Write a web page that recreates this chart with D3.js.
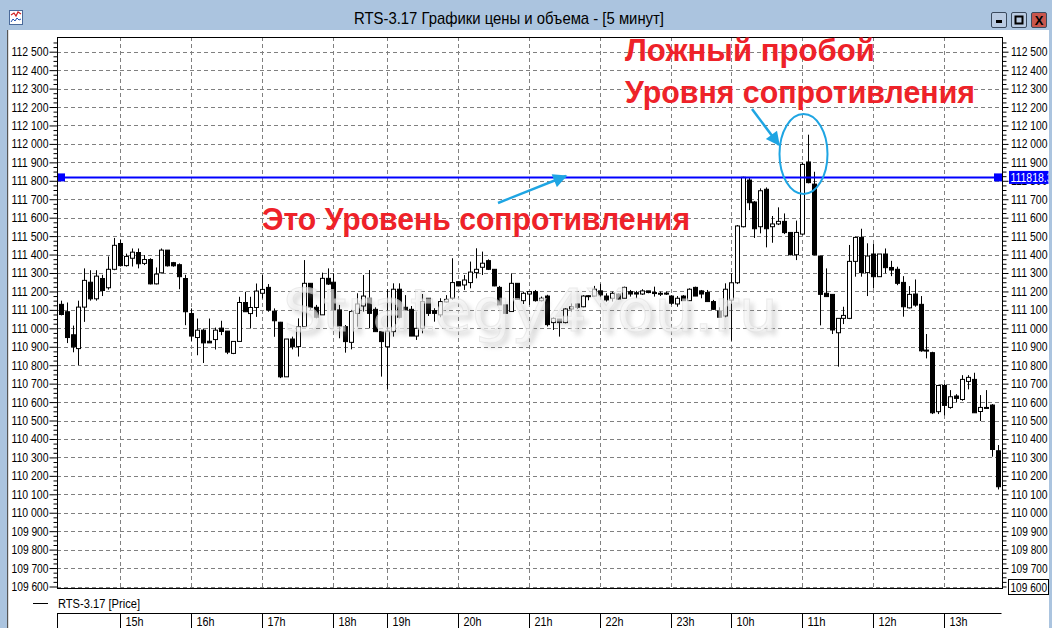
<!DOCTYPE html>
<html><head><meta charset="utf-8">
<script src="https://cdn.jsdelivr.net/npm/d3@7/dist/d3.min.js"></script>
<style>
body{margin:0;overflow:hidden;background:#fff}
.ui{font-family:"Liberation Sans",Arial,sans-serif;}
</style>
</head><body>
<svg id="c" width="1052" height="628"></svg>
<script>
// ---- DATA ----
const sessions = [["14:10",10],["15:00",12],["16:00",12],["17:00",12],["18:00",9],["19:00",12],
  ["20:00",12],["21:00",12],["22:00",12],["23:00",10],["10:00",12],["11:00",12],["12:00",12],["13:00",10]];
const times = [];
sessions.forEach(([s,n])=>{const [h,m]=s.split(":").map(Number);for(let k=0;k<n;k++){const mm=m+5*k;times.push(String(h).padStart(2,"0")+":"+String(mm).padStart(2,"0"));}});

const open = [
111130,111090,110965,110890,111115,111250,111160,111270,111220,111320,
111460,111340,111380,111411,111352,111373,111241,111301,111424,111356,111345,111270,
111080,110950,110990,110930,110939,111001,110985,110864,110929,111140,111080,111113,
111190,111222,111093,111033,110737,110942,110901,111009,111244,111114,111073,111271,
111250,111100,111009,110924,111081,111121,111163,111103,110982,
110900,110982,111212,111114,111103,110958,111000,111163,111096,111073,111143,111163,
111253,111235,111248,111302,111331,111367,111320,111222,111127,111091,111244,111150,
111186,111199,111150,111175,111031,111050,111031,111105,111132,111117,111175,111175,
111203,111175,111163,111186,111163,111199,111193,111186,111203,111194,111190,111191,
111175,111132,111175,111150,111222,111203,111194,111145,111094,111067,
111153,111247,111551,111804,111685,111551,111754,111551,111566,111580,111520,111399,
111511,111902,111782,111392,111190,111184,110976,111054,111054,111363,111493,111302,
111403,111280,111403,111330,111320,111249,111111,111186,111130,110882,110868,110548,
110690,110571,110633,110614,110712,110723,110549,110568,110584,110336];
const high = [
111150,111140,111015,111150,111325,111315,111315,111290,111390,111490,
111482,111405,111433,111433,111397,111380,111330,111433,111424,111360,111352,111290,
111108,111053,110999,111053,111004,111041,110985,110929,111171,111198,111171,111243,
111292,111240,111108,111035,110942,110955,111054,111370,111244,111127,111302,111325,
111298,111127,111018,111100,111190,111289,111316,111114,110982,
111212,111244,111244,111180,111121,111091,111186,111163,111109,111163,111180,111380,
111253,111289,111362,111434,111416,111374,111320,111230,111127,111298,111244,111199,
111199,111208,111172,111182,111060,111050,111110,111135,111135,111180,111180,111230,
111241,111190,111199,111190,111226,111208,111203,111212,111203,111226,111199,111199,
111180,111175,111180,111217,111226,111208,111208,111154,111114,111244,
111298,111560,111822,111819,111690,111759,111764,111609,111656,111623,111520,111584,
111898,112050,111849,111392,111325,111184,111054,111117,111452,111497,111540,111461,
111457,111403,111433,111366,111334,111283,111229,111265,111175,110969,110873,110694,
110698,110665,110643,110746,110746,110759,110638,110665,110589,110367];
const low = [
111070,110920,110870,110800,111035,111150,111150,111175,111210,111315,
111335,111335,111335,111325,111343,111238,111238,111298,111335,111334,111212,111017,
110932,110854,110812,110921,110885,110963,110860,110860,110929,111090,110999,111062,
111162,111090,110954,110730,110737,110886,110847,111009,111100,111054,111073,111235,
111009,110946,110868,110886,111009,111091,111000,110982,110738,
110670,110955,111054,111100,110958,110937,110973,111067,111036,111060,111140,111154,
111228,111208,111217,111271,111289,111316,111228,111127,111081,111091,111157,111132,
111127,111145,111145,111010,110991,110955,111027,111090,111105,111114,111152,111172,
111172,111145,111145,111157,111163,111172,111163,111181,111190,111172,111175,111181,
111127,111117,111150,111150,111175,111163,111145,111100,111060,111060,
110933,111240,111547,111641,111490,111515,111439,111464,111560,111511,111396,111370,
111505,111786,111396,111016,111172,110969,110792,111023,111050,111280,111280,111175,
111216,111280,111298,111283,111234,111063,111108,111117,110873,110837,110535,110535,
110528,110564,110600,110607,110669,110542,110497,110564,110304,110126];
const close = [
111075,110950,110900,111115,111260,111160,111283,111205,111320,111450,
111340,111390,111413,111350,111373,111241,111294,111424,111339,111339,111280,111090,
110958,110990,110921,110921,110990,110983,110871,110929,111140,111090,111113,111202,
111211,111099,111041,110737,110942,110900,111009,111244,111114,111060,111271,111240,
111100,111009,110928,111091,111132,111175,111081,110982,110928,
110985,111212,111060,111100,110958,111000,111145,111081,111081,111145,111157,111248,
111230,111262,111305,111320,111353,111320,111230,111127,111081,111244,111157,111190,
111199,111150,111163,111020,111054,111031,111105,111117,111114,111175,111177,111212,
111181,111154,111190,111159,111222,111186,111186,111203,111194,111190,111190,111189,
111136,111163,111150,111212,111175,111186,111145,111103,111060,111212,
111247,111555,111819,111681,111540,111746,111540,111566,111580,111519,111399,111520,
111889,111790,111399,111184,111172,110991,111054,111070,111363,111493,111302,111392,
111280,111403,111329,111316,111244,111117,111184,111126,110878,110880,110542,110690,
110582,110629,110620,110723,110734,110542,110571,110571,110343,110141];

const yTicks = d3.range(109600, 112501, 100);
const hourTicks = ["15:00","16:00","17:00","18:00","19:00","20:00","21:00","22:00","23:00","10:00","11:00","12:00","13:00"];
const hourLabels = ["15h","16h","17h","18h","19h","20h","21h","22h","23h","10h","11h","12h","13h"];
const level = 111818.3;
const title = "RTS-3.17 Графики цены и объема - [5 минут]";
const legendText = "RTS-3.17 [Price]";

// ---- LAYOUT ----
const svg = d3.select("#c");
const P = {l:57, r:1002, t:37, b:588};
const y = d3.scaleLinear().domain([109600,112500]).range([586.5,51.7]);
const x = d3.scaleBand().domain(times).range([57.7,1000.6]).paddingInner(0).paddingOuter(0);
const cx = t => x(t) + x.bandwidth()/2;
const fmt = v => d3.format(",")(v).replace(/,/g," ");
const squeeze = (sel, w) => sel.attr("textLength", w).attr("lengthAdjust","spacingAndGlyphs");
const defs = svg.append("defs");
defs.append("clipPath").attr("id","win").append("rect").attr("x",0).attr("y",0).attr("width",1048.5).attr("height",628);

// window chrome
svg.append("rect").attr("x",0).attr("y",0).attr("width",1052).attr("height",628).attr("fill","#fff");
svg.append("rect").attr("x",0).attr("y",0).attr("width",1052).attr("height",30).attr("fill","#abc4df");
svg.append("rect").attr("x",0).attr("y",30).attr("width",7).attr("height",598).attr("fill","#abc4df");
svg.append("rect").attr("x",7).attr("y",30).attr("width",1.2).attr("height",598).attr("fill","#555");
svg.append("rect").attr("x",1049).attr("y",30).attr("width",3).attr("height",598).attr("fill","#abc4df");
// icon
const ic = svg.append("g");
ic.append("rect").attr("x",9.5).attr("y",10.5).attr("width",13).attr("height",14).attr("fill","#fff").attr("stroke","#4a6a9a");
ic.append("polyline").attr("points","11,15 14,13 16,16 18,12 21,14").attr("fill","none").attr("stroke","#d02020").attr("stroke-width",1.2);
ic.append("polyline").attr("points","11,22 13,19 15,21 17,18 19,20 21,19").attr("fill","none").attr("stroke","#2050b0").attr("stroke-width",1);
squeeze(svg.append("text").attr("class","ui").attr("x",354).attr("y",24)
  .attr("font-size",17).attr("fill","#000").text(title), 310);
// buttons
[[991,"min"],[1011,"max"],[1031,"close"]].forEach(([bx,k])=>{
  svg.append("rect").attr("x",bx+0.5).attr("y",12.5).attr("width",15).attr("height",15).attr("rx",1.5)
    .attr("fill",k==="close"?"#c8564d":"#b9cbe2").attr("stroke","#3a4a5e");
  if(k==="min") svg.append("rect").attr("x",bx+5).attr("y",20).attr("width",6).attr("height",3).attr("fill","#000");
  if(k==="max") svg.append("rect").attr("x",bx+4.5).attr("y",16.5).attr("width",7).attr("height",7).attr("fill","none").attr("stroke","#000").attr("stroke-width",2);
  if(k==="close") svg.append("text").attr("x",bx+8).attr("y",24.5).attr("text-anchor","middle")
    .attr("font-family","Liberation Sans").attr("font-weight","bold").attr("font-size",13).text("X");
});

// grid
const grid = svg.append("g").attr("stroke","#808080").attr("stroke-dasharray","4,3").attr("stroke-width",1);
grid.selectAll("line.h").data(yTicks).join("line").attr("class","h")
  .attr("x1",P.l).attr("x2",P.r).attr("y1",d=>Math.round(y(d))+0.5).attr("y2",d=>Math.round(y(d))+0.5);
grid.selectAll("line.v").data(hourTicks).join("line").attr("class","v")
  .attr("y1",P.t).attr("y2",P.b).attr("x1",d=>Math.round(cx(d))+0.5).attr("x2",d=>Math.round(cx(d))+0.5);

// candles
const idx = d3.range(times.length);
const cg = svg.append("g");
cg.selectAll("line").data(idx).join("line")
  .attr("x1",i=>Math.round(cx(times[i]))+0.5).attr("x2",i=>Math.round(cx(times[i]))+0.5)
  .attr("y1",i=>y(high[i])).attr("y2",i=>y(low[i])).attr("stroke","#000").attr("stroke-width",1);
cg.selectAll("rect").data(idx).join("rect")
  .attr("x",i=>Math.round(cx(times[i]))-1.5).attr("width",4)
  .attr("y",i=>y(Math.max(open[i],close[i])))
  .attr("height",i=>Math.max(1,Math.abs(y(open[i])-y(close[i]))))
  .attr("fill",i=>close[i]>=open[i]?"#fff":"#000").attr("stroke","#000").attr("stroke-width",1);

// level line
svg.append("line").attr("x1",P.l).attr("x2",P.r).attr("y1",y(level)).attr("y2",y(level))
  .attr("stroke","#0000ff").attr("stroke-width",2);
svg.append("rect").attr("x",P.l).attr("y",y(level)-4).attr("width",8).attr("height",8).attr("fill","#0000ff");
svg.append("rect").attr("x",P.r-8).attr("y",y(level)-4).attr("width",8).attr("height",8).attr("fill","#0000ff");

// border
svg.append("rect").attr("x",P.l+0.5).attr("y",P.t+0.5).attr("width",P.r-P.l).attr("height",P.b-P.t)
  .attr("fill","none").attr("stroke","#000").attr("stroke-width",1);

// axes
const minor = d3.range(109600, 112551, 25).filter(v=>v%100!==0 && y(v)>P.t);
const axL = svg.append("g").attr("class","ui").attr("transform",`translate(${P.l+0.5},0)`)
  .call(d3.axisLeft(y).tickValues(yTicks).tickSize(8).tickPadding(1).tickFormat(fmt));
const axLm = svg.append("g").attr("transform",`translate(${P.l+0.5},0)`)
  .call(d3.axisLeft(y).tickValues(minor).tickSize(4).tickFormat(""));
const axR = svg.append("g").attr("class","ui").attr("transform",`translate(${P.r+0.5},0)`)
  .call(d3.axisRight(y).tickValues(yTicks.filter(v=>v!==109600)).tickSize(6).tickPadding(1.5).tickFormat(fmt));
const axRm = svg.append("g").attr("transform",`translate(${P.r+0.5},0)`)
  .call(d3.axisRight(y).tickValues(minor.concat([109600])).tickSize(4).tickFormat(""));
[axL,axLm,axR,axRm].forEach(a=>{a.select(".domain").remove();
  a.selectAll("text").attr("font-size",12.5).attr("fill","#000").attr("font-family","Liberation Sans")
   .attr("textLength",37).attr("lengthAdjust","spacingAndGlyphs");});
axR.selectAll("text").attr("text-anchor","end").attr("x",45).attr("textLength",36.5);

// bottom right value box
svg.append("rect").attr("x",1008.5).attr("y",579.5).attr("width",40).attr("height",15).attr("fill","#fff").attr("stroke","#000");
squeeze(svg.append("text").attr("class","ui").attr("x",1047).attr("y",591.5).attr("text-anchor","end").attr("font-size",12.5).text(fmt(109600)),36.5);
// level value box (clipped at the window edge as in the reference)
const lv = svg.append("g").attr("clip-path","url(#win)");
lv.append("rect").attr("x",1009).attr("y",y(level)-6.5).attr("width",40).attr("height",13).attr("fill","#0000ff");
squeeze(lv.append("text").attr("class","ui").attr("x",1010.5).attr("y",y(level)+5).attr("font-size",12.5).attr("fill","#fff").text(level.toFixed(1)),42);

// legend
svg.append("line").attr("x1",33).attr("x2",48).attr("y1",603.5).attr("y2",603.5).attr("stroke","#000");
squeeze(svg.append("text").attr("class","ui").attr("x",58).attr("y",608).attr("font-size",12.5).text(legendText),82);

// x axis box
svg.append("line").attr("x1",P.l).attr("x2",1001.5).attr("y1",613.5).attr("y2",613.5).attr("stroke","#000");
svg.append("line").attr("x1",P.l+0.5).attr("x2",P.l+0.5).attr("y1",613).attr("y2",628).attr("stroke","#000");
const xa = svg.append("g");
hourTicks.forEach((t,k)=>{
  const xx = Math.round(cx(t))+0.5;
  xa.append("line").attr("x1",xx).attr("x2",xx).attr("y1",613).attr("y2",628).attr("stroke","#000");
  squeeze(xa.append("text").attr("class","ui").attr("x",xx+5).attr("y",626).attr("font-size",12.5).text(hourLabels[k]),18);
});

// watermark
defs.append("filter").attr("id","bl").attr("x","-10%").attr("y","-30%").attr("width","120%").attr("height","160%")
  .append("feGaussianBlur").attr("stdDeviation",2.5);
squeeze(svg.append("text").attr("x",287).attr("y",335).attr("font-family","DejaVu Sans").attr("font-size",59)
  .attr("fill","#8a8a8a").attr("opacity",0.3).attr("filter","url(#bl)").text("Strategy4You.ru"),495);
squeeze(svg.append("text").attr("x",283).attr("y",331).attr("font-family","DejaVu Sans").attr("font-size",59)
  .attr("fill","#f6f6f6").attr("opacity",0.65).attr("stroke","#e2e2e2").attr("stroke-width",1).text("Strategy4You.ru"),495);

// annotations
const red = "#ee2229", cyan = "#1ea5e3";
const ann = svg.append("g").attr("font-family","Liberation Sans").attr("font-weight","bold").attr("font-size",30.5).attr("fill",red);
squeeze(ann.append("text").attr("x",625).attr("y",61).text("Ложный пробой"),250);
squeeze(ann.append("text").attr("x",625).attr("y",103).text("Уровня сопротивления"),350);
squeeze(ann.append("text").attr("x",262).attr("y",230).text("Это Уровень сопротивления"),428);
defs.append("marker").attr("id","ah").attr("viewBox","0 0 10 10").attr("refX",9).attr("refY",5)
  .attr("markerWidth",16).attr("markerHeight",14).attr("markerUnits","userSpaceOnUse").attr("orient","auto")
  .append("path").attr("d","M0,0 L10,5 L0,10 z").attr("fill",cyan);
svg.append("line").attr("x1",498).attr("y1",203).attr("x2",566).attr("y2",176).attr("stroke",cyan).attr("stroke-width",2.5).attr("marker-end","url(#ah)");
svg.append("line").attr("x1",752).attr("y1",109).attr("x2",779).attr("y2",145).attr("stroke",cyan).attr("stroke-width",2.5).attr("marker-end","url(#ah)");
svg.append("ellipse").attr("cx",803.5).attr("cy",154).attr("rx",24).attr("ry",40).attr("fill","none").attr("stroke",cyan).attr("stroke-width",2);
</script>
</body></html>
